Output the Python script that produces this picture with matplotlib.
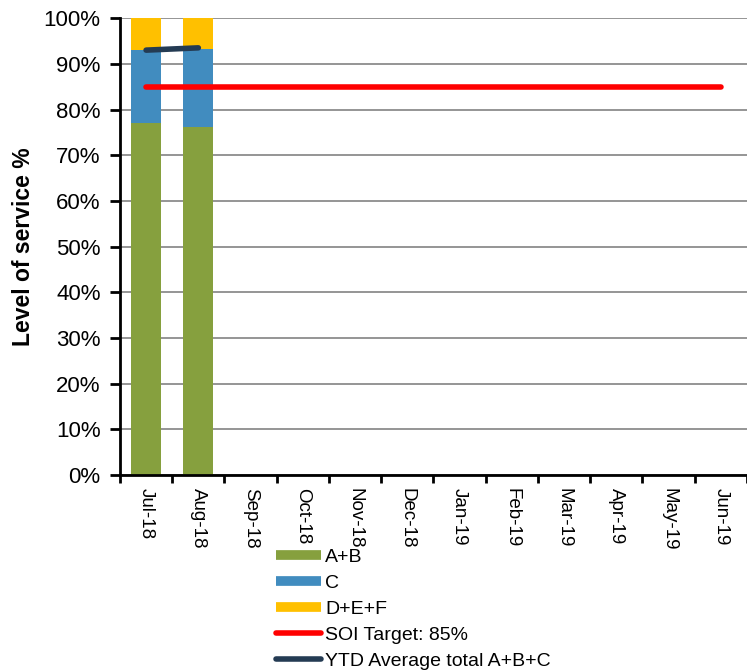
import matplotlib
matplotlib.use("Agg")
import matplotlib.pyplot as plt
from matplotlib.lines import Line2D
from matplotlib.ticker import PercentFormatter, MultipleLocator, FixedLocator
import numpy as np

plt.rcParams['font.family'] = ['Liberation Sans', 'DejaVu Sans']

months = ['Jul-18', 'Aug-18', 'Sep-18', 'Oct-18', 'Nov-18', 'Dec-18',
          'Jan-19', 'Feb-19', 'Mar-19', 'Apr-19', 'May-19', 'Jun-19']
ab = [77.0, 76.2]          # A+B
c = [16.1, 17.0]           # C
def_ = [6.9, 6.8]          # D+E+F
soi_target = [85] * 12     # SOI Target: 85%
ytd_avg = [93.0, 93.5]     # YTD Average total A+B+C

col_ab = '#86A03E'
col_c = '#418CBF'
col_def = '#FFC000'
col_red = '#FF0000'
col_ytd = '#243B53'

fig = plt.figure(figsize=(7.47, 6.72), dpi=100)
ax = fig.add_axes([0.1606, 0.293, 0.8394, 0.680])

x = np.arange(len(months))
n = len(ab)
w = 0.57
ax.bar(x[:n], ab, w, color=col_ab, zorder=2)
ax.bar(x[:n], c, w, bottom=ab, color=col_c, zorder=2)
ax.bar(x[:n], def_, w, bottom=np.add(ab, c), color=col_def, zorder=2)
ax.plot(x, soi_target, color=col_red, lw=4, solid_capstyle='round', zorder=3)
ax.plot(x[:n], ytd_avg, color=col_ytd, lw=4, solid_capstyle='round', zorder=3)

ax.set_xlim(-0.5, len(months) - 0.5)
ax.set_ylim(0, 100)
ax.yaxis.set_major_locator(MultipleLocator(10))
ax.yaxis.set_major_formatter(PercentFormatter(decimals=0))
ax.grid(axis='y', color='#8C8C8C', lw=1.3, zorder=0)
ax.set_axisbelow(True)

ax.set_xticks(x)
ax.set_xticklabels(months, rotation=270, fontsize=13.5)
ax.tick_params(axis='x', length=0, pad=9)
ax.xaxis.set_minor_locator(FixedLocator(np.arange(-0.5, len(months), 1)))
ax.tick_params(axis='x', which='minor', length=6, width=2)
ax.tick_params(axis='y', labelsize=16, length=7, width=2, pad=7)

for s in ['top', 'right']:
    ax.spines[s].set_visible(False)
for s in ['left', 'bottom']:
    ax.spines[s].set_linewidth(2)

ax.set_ylabel('Level of service %', fontsize=16.5, fontweight='bold', labelpad=6)

handles = [
    Line2D([], [], color=col_ab, lw=7, solid_capstyle='butt'),
    Line2D([], [], color=col_c, lw=7, solid_capstyle='butt'),
    Line2D([], [], color=col_def, lw=7, solid_capstyle='butt'),
    Line2D([], [], color=col_red, lw=4, solid_capstyle='round'),
    Line2D([], [], color=col_ytd, lw=4, solid_capstyle='round'),
]
labels = ['A+B', 'C', 'D+E+F', 'SOI Target: 85%', 'YTD Average total A+B+C']
fig.legend(handles, labels, loc='upper left', bbox_to_anchor=(0.369, 0.184),
           frameon=False, fontsize=14, handlelength=2.35, handletextpad=0.2,
           labelspacing=0.43, borderpad=0, borderaxespad=0)

fig.savefig('out.png', dpi=100)
